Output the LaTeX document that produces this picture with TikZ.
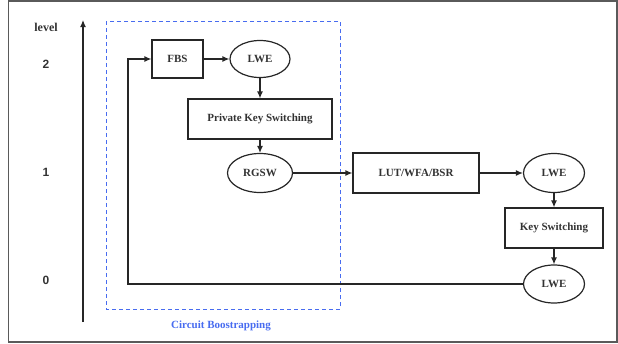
\documentclass[tikz,border=0pt]{standalone}
\usepackage{fontspec}
\setmainfont{Liberation Serif}
\newfontfamily\numfont{Liberation Sans}
\usepackage{tikz}
\usetikzlibrary{arrows.meta,shapes.geometric,positioning}
\definecolor{txtgray}{RGB}{51,51,51}
\definecolor{cbblue}{RGB}{72,108,240}
\definecolor{framegray}{RGB}{90,90,90}

\begin{document}
\begin{tikzpicture}[x=1pt,y=-1pt]
\tikzstyle{every node}=[font=\bfseries\fontsize{11}{13}\selectfont, text=txtgray]
\tikzstyle{box}=[draw=black!85, line width=1.2pt, rectangle, minimum height=38pt, inner sep=0pt]
\tikzstyle{ell}=[draw=black!85, line width=1.2pt, ellipse, minimum width=60pt, minimum height=37pt, inner sep=0pt]
\tikzstyle{flow}=[-{Latex[length=7pt,width=6pt]}, line width=1.2pt, black!85]
\tikzstyle{lvl}=[font=\numfont\bfseries\fontsize{12}{14}\selectfont]
\useasboundingbox (0,0) rectangle (618,343);
\draw [framegray, line width=1.6pt] (8.5,0.8) rectangle (617.2,342);

% level axis
\coordinate (axisbot) at (83,322);
\coordinate (axistop) at (83,20);
\draw [flow] (axisbot) -- (axistop);
\node[font=\bfseries\fontsize{12}{14}\selectfont] (level) at (46,27) {level};
\node[lvl] (l2) at (46,64) {2};
\node[lvl] (l1) at (46,172) {1};
\node[lvl] (l0) at (46,280) {0};

% circuit bootstrapping part
\draw [cbblue, line width=1pt, dash pattern=on 4pt off 3pt] (106,21) rectangle (340,309);
\node[text=cbblue] (cbtitle) at (221,326) {Circuit Boostrapping};

\node[box, minimum width=51pt] (fbs) at (177.5,59) {FBS};
\node[ell] (lwea) at (260,59) {LWE};
\node[box, minimum width=144pt, minimum height=40pt] (pks) at (260,119) {Private Key Switching};
\node[ell, minimum width=65pt, minimum height=39pt] (rgsw) at (260,173) {RGSW};

% after the circuit bootstrapping
\node[box, minimum width=126pt, minimum height=40pt] (lut) at (416,173) {LUT/WFA/BSR};
\node[ell, minimum width=61pt, minimum height=39pt] (lweb) at (554,173) {LWE};
\node[box, minimum width=98pt, minimum height=40pt] (ks) at (554,228) {Key Switching};
\node[ell, minimum width=61pt, minimum height=38pt] (lwec) at (554,284) {LWE};

\draw [flow] (fbs) -- (lwea);
\draw [flow] (lwea) -- (pks);
\draw [flow] (pks) -- (rgsw);
\draw [flow] (rgsw) -- (lut);
\draw [flow] (lut) -- (lweb);
\draw [flow] (lweb) -- (ks);
\draw [flow] (ks) -- (lwec);

% back to level 2
\coordinate (back) at (128,284);
\draw [flow] (lwec.west) -- (back) |- (fbs.west);

\end{tikzpicture}
\end{document}
